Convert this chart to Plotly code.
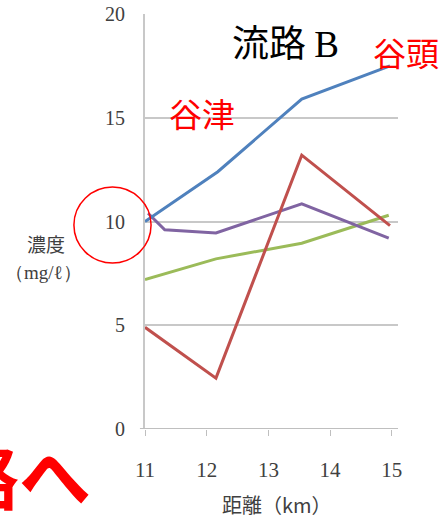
import plotly.graph_objects as go

# distances (km) and concentrations (mg/l)
blue_x = [11.0, 12.18, 13.54, 14.97]
blue_y = [10.0, 12.4, 15.9, 17.5]

red_x = [11.0, 12.15, 13.54, 14.97]
red_y = [4.9, 2.45, 13.2, 9.8]

purple_x = [11.05, 11.32, 12.15, 13.54, 14.95]
purple_y = [10.4, 9.6, 9.45, 10.85, 9.2]

green_x = [11.0, 12.15, 13.54, 14.95]
green_y = [7.2, 8.2, 8.95, 10.3]

x_ticks = [11, 12, 13, 14, 15]
y_ticks = [0, 5, 10, 15, 20]

serif = "Liberation Serif"
cjk = "Noto Sans CJK JP"

fig = go.Figure()
for xs, ys, col in [(green_x, green_y, "#9BBB59"),
                    (purple_x, purple_y, "#8064A2"),
                    (red_x, red_y, "#C0504D"),
                    (blue_x, blue_y, "#4F81BD")]:
    fig.add_trace(go.Scatter(x=xs, y=ys, mode="lines",
                             line=dict(color=col, width=3), showlegend=False))

fig.update_layout(
    width=444, height=520,
    margin=dict(l=145, r=46, t=14, b=91),
    paper_bgcolor="white", plot_bgcolor="white",
    xaxis=dict(range=[11, 15.1], tickvals=x_ticks, ticks="outside", ticklen=6,
               tickcolor="#bfbfbf", showgrid=False, zeroline=False,
               showline=False, ticklabelstandoff=16, automargin=False,
               tickfont=dict(family=serif, size=21, color="#404040")),
    yaxis=dict(range=[0, 20], tickvals=y_ticks, showgrid=True,
               gridcolor="#c8c8c8", gridwidth=2, zeroline=False,
               showline=True, linecolor="#c8c8c8", linewidth=2,
               ticklabelstandoff=14, automargin=False,
               tickfont=dict(family=serif, size=20, color="#404040")),
)

# x axis baseline
fig.add_shape(type="line", xref="paper", yref="y", x0=-0.02, x1=1, y0=0, y1=0,
              line=dict(color="#bfbfbf", width=2))


def label(text, x, y, size, color, family=cjk, xanchor="center"):
    fig.add_annotation(text=text, xref="paper", yref="paper", x=x, y=y,
                       xanchor=xanchor, yanchor="middle", showarrow=False,
                       font=dict(family=family, size=size, color=color))


label("流路 <span style='font-family:Liberation Serif'>B</span>", 0.555, 0.935, 37, "black")
label("谷津", 0.225, 0.761, 33, "red")
label("谷頭", 1.03, 0.908, 33, "red")
label("濃度", -0.391, 0.446, 19, "#404040")
label("（mg/ℓ）", -0.403, 0.378, 19, "#404040", family=serif)
label("距離（km）", 0.522, -0.183, 20, "#404040")
label("<b>路へ</b>", -0.79, -0.104, 72, "red", xanchor="left")

fig.add_shape(type="circle", xref="paper", yref="paper",
              x0=-0.281, x1=0.024, y0=0.4, y1=0.583,
              line=dict(color="red", width=1.5))

fig.write_html("out.html", config={"displayModeBar": False},
               post_script="document.body.style.margin='0';")
